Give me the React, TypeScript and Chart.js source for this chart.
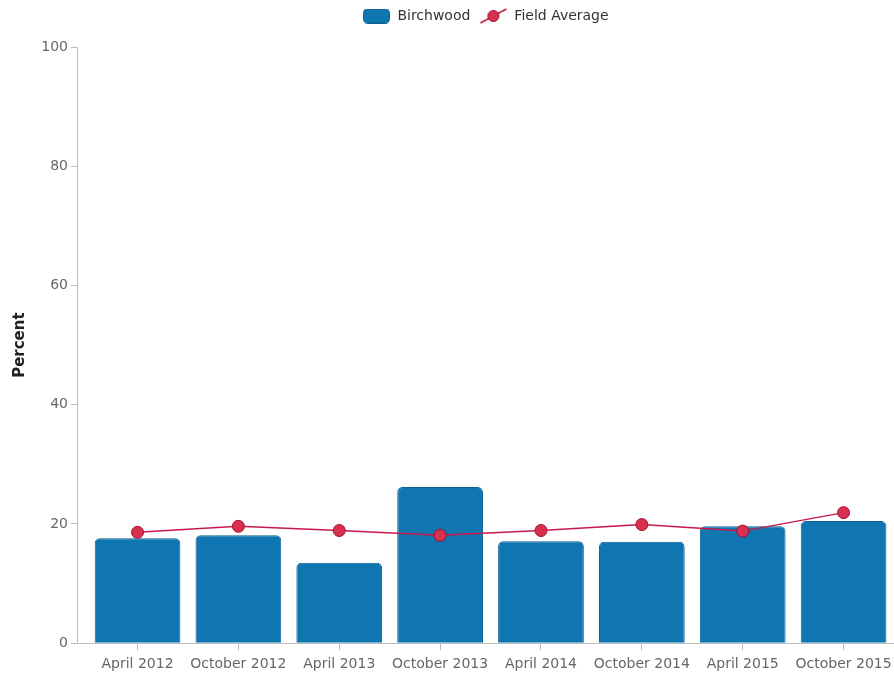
import { useEffect, useRef } from "react";
import { Chart, registerables } from "chart.js";

Chart.register(...registerables);

const categories = [
  "April 2012",
  "October 2012",
  "April 2013",
  "October 2013",
  "April 2014",
  "October 2014",
  "April 2015",
  "October 2015",
];
const birchwood = [17.6, 18.1, 13.5, 26.2, 17.1, 17.0, 19.6, 20.5];
const fieldAverage = [18.6, 19.6, 18.9, 18.1, 18.9, 19.9, 18.8, 21.9];
const yTicks = [0, 20, 40, 60, 80, 100];

const BAR_FILL = "#0f76b2";
const BAR_EDGE = "#0b5f91";
const LINE_COLOR = "#c8174a";
const POINT_FILL = "#d9304f";
const POINT_EDGE = "#a3102f";
const AXIS_COLOR = "#bdbdbd";
const TEXT_COLOR = "#666666";
const FONT = "'DejaVu Sans', sans-serif";

function barIcon(): HTMLCanvasElement {
  const c = document.createElement("canvas");
  c.width = 27;
  c.height = 15;
  const ctx = c.getContext("2d")!;
  ctx.fillStyle = BAR_FILL;
  ctx.strokeStyle = BAR_EDGE;
  ctx.lineWidth = 1;
  ctx.beginPath();
  ctx.roundRect(0.5, 0.5, 26, 14, 4);
  ctx.fill();
  ctx.stroke();
  return c;
}

function lineIcon(): HTMLCanvasElement {
  const c = document.createElement("canvas");
  c.width = 28;
  c.height = 18;
  const ctx = c.getContext("2d")!;
  ctx.strokeStyle = LINE_COLOR;
  ctx.lineWidth = 1.5;
  ctx.beginPath();
  ctx.moveTo(1, 16);
  ctx.lineTo(27, 2);
  ctx.stroke();
  ctx.beginPath();
  ctx.arc(14, 9, 5.5, 0, Math.PI * 2);
  ctx.fillStyle = POINT_FILL;
  ctx.fill();
  ctx.strokeStyle = POINT_EDGE;
  ctx.lineWidth = 1;
  ctx.stroke();
  return c;
}

// Adds space under the legend and centres it over the plot area.
const legendPlacement = {
  id: "legendPlacement",
  beforeLayout(chart: any) {
    const legend = chart.legend;
    if (legend && !legend.__extraGap) {
      const fit = legend.fit.bind(legend);
      legend.fit = () => {
        fit();
        legend.height += 14;
      };
      legend.__extraGap = true;
    }
  },
  afterLayout(chart: any) {
    const legend = chart.legend;
    const area = chart.chartArea;
    if (!legend || !area) return;
    const shift = (area.left + area.right) / 2 - (legend.left + legend.right) / 2;
    legend.left += shift;
    legend.right += shift;
  },
};

export default function App() {
  const canvasRef = useRef<HTMLCanvasElement | null>(null);

  useEffect(() => {
    document.body.style.margin = "0";
    const canvas = canvasRef.current;
    if (!canvas) return;

    const icons = [barIcon(), lineIcon()];

    const chart = new Chart(canvas, {
      type: "bar",
      data: {
        datasets: [
          {
            type: "bar",
            label: "Birchwood",
            data: birchwood.map((v, i) => ({ x: i, y: v })),
            backgroundColor: BAR_FILL,
            borderColor: BAR_EDGE,
            borderWidth: 1,
            borderRadius: { topLeft: 5, topRight: 5, bottomLeft: 0, bottomRight: 0 },
            borderSkipped: "bottom",
            barPercentage: 0.85,
            categoryPercentage: 1,
            order: 2,
          },
          {
            type: "line",
            label: "Field Average",
            data: fieldAverage.map((v, i) => ({ x: i, y: v })),
            borderColor: LINE_COLOR,
            borderWidth: 1.5,
            backgroundColor: POINT_FILL,
            pointBackgroundColor: POINT_FILL,
            pointBorderColor: POINT_EDGE,
            pointBorderWidth: 1,
            pointRadius: 6,
            pointHoverRadius: 6,
            tension: 0,
            clip: false,
            order: 1,
          },
        ],
      },
      plugins: [legendPlacement],
      options: {
        animation: false,
        responsive: true,
        maintainAspectRatio: false,
        layout: { autoPadding: false, padding: { top: 0, right: 0, bottom: 1, left: 0 } },
        plugins: {
          tooltip: { enabled: false },
          legend: {
            position: "top",
            labels: {
              usePointStyle: true,
              pointStyleWidth: 28,
              padding: 9,
              color: "#333333",
              font: { family: FONT, size: 14 },
              generateLabels: () =>
                ["Birchwood", "Field Average"].map((text, i) => ({
                  text,
                  pointStyle: icons[i],
                  fillStyle: "transparent",
                  strokeStyle: "transparent",
                  lineWidth: 0,
                  hidden: false,
                  datasetIndex: i,
                  fontColor: "#333333",
                })),
            },
          },
        },
        scales: {
          x: {
            type: "linear",
            offset: false,
            min: -0.6,
            max: 7.5,
            afterBuildTicks: (scale: any) => {
              scale.ticks = categories.map((_, i) => ({ value: i }));
            },
            afterFit: (scale: any) => {
              scale.paddingRight = 0;
              scale.height = scale.height - 3;
            },
            ticks: {
              autoSkip: false,
              maxRotation: 0,
              padding: 6,
              color: TEXT_COLOR,
              font: { family: FONT, size: 14 },
              callback: (v: any) => categories[Math.round(Number(v))] ?? "",
            },
            grid: {
              offset: false,
              drawOnChartArea: false,
              drawTicks: true,
              tickLength: 7,
              color: AXIS_COLOR,
            },
            border: { display: true, color: AXIS_COLOR },
          },
          y: {
            min: 0,
            max: 100,
            afterBuildTicks: (scale: any) => {
              scale.ticks = yTicks.map((v) => ({ value: v }));
            },
            afterFit: (scale: any) => {
              scale.width = 77;
            },
            ticks: {
              padding: 3,
              color: TEXT_COLOR,
              font: { family: FONT, size: 14 },
            },
            grid: {
              drawOnChartArea: false,
              drawTicks: true,
              tickLength: 6,
              color: AXIS_COLOR,
            },
            border: { display: true, color: AXIS_COLOR },
            title: {
              display: true,
              text: "Percent",
              color: "#222222",
              padding: { top: 11, bottom: 0 },
              font: { family: FONT, size: 15, weight: "bold" },
            },
          },
        },
      },
    });

    return () => chart.destroy();
  }, []);

  return (
    <div style={{ position: "relative", width: 894, height: 677 }}>
      <canvas ref={canvasRef} />
    </div>
  );
}
